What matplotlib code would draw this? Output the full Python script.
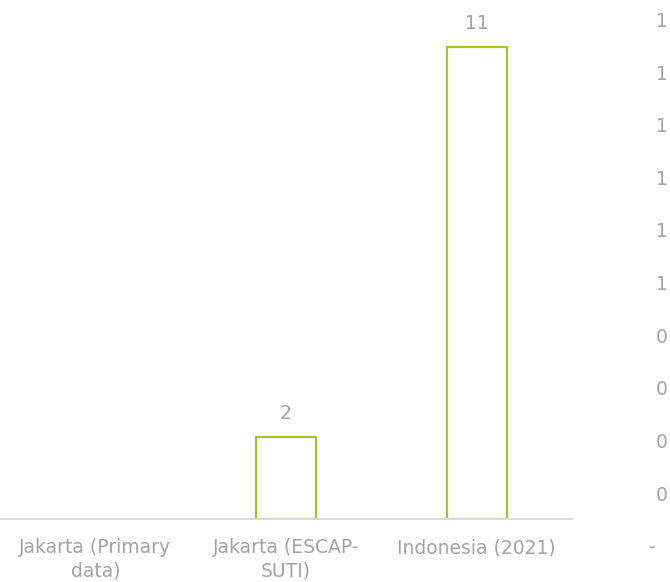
import matplotlib
matplotlib.use("Agg")
import matplotlib.pyplot as plt

categories = ["Jakarta (Primary\ndata)", "Jakarta (ESCAP-\nSUTI)", "Indonesia (2021)"]
values = [0, 1.9, 11]
value_labels = ["", "2", "11"]
right_ticks = [0, 0.1, 0.2, 0.3, 0.4, 0.5, 0.6, 0.7, 0.8, 0.9, 1.0]
right_labels = ["-  ", "0", "0", "0", "0", "1", "1", "1", "1", "1", "1"]

TEXT = "#A3A3A3"
EDGE = "#A8C42C"
AXIS = "#D9D9D9"
FONT = "DejaVu Sans"
FS = 13.5

W, H = 670, 582
fig = plt.figure(figsize=(W / 100, H / 100), dpi=100)

# main axes: x 0..572 px, baseline at y=519 px
per_unit = 42.9
ymax = 12
top_px = 519 - per_unit * ymax
ax = fig.add_axes([0, 1 - 519 / H, 572 / W, (519 - top_px) / H])
ax.set_xlim(-0.5, 2.5)
ax.set_ylim(0, ymax)
x = list(range(len(categories)))
bars = ax.bar(x, values, width=0.315, facecolor="none", edgecolor=EDGE, linewidth=1.6)
for b, v in zip(bars, values):
    if v == 0:
        b.set_visible(False)
for xi, v, lab in zip(x, values, value_labels):
    if lab:
        ax.annotate(lab, (xi, v), xytext=(0, 17), textcoords="offset points",
                    ha="center", va="center", color=TEXT, fontsize=FS, family=FONT)
for s in ["top", "right", "left"]:
    ax.spines[s].set_visible(False)
ax.spines["bottom"].set_color(AXIS)
ax.spines["bottom"].set_linewidth(1.3)
ax.set_yticks([])
ax.set_xticks(x)
ax.set_xticklabels(categories, color=TEXT, fontsize=FS, family=FONT, linespacing=1.25)
ax.tick_params(axis="x", length=0, pad=14)
for t in ax.get_xticklabels():
    t.set_verticalalignment("top")
ax.patch.set_alpha(0)

# right value axis
b0 = 545.7
b1 = 19.5
ax2 = fig.add_axes([0.6, 1 - b0 / H, 668 / W - 0.6, (b0 - b1) / H])
ax2.set_ylim(0, 1)
ax2.set_xticks([])
for s in ax2.spines.values():
    s.set_visible(False)
ax2.patch.set_alpha(0)
ax2.yaxis.tick_right()
ax2.set_yticks(right_ticks)
ax2.set_yticklabels(right_labels, color=TEXT, fontsize=FS, family=FONT)
ax2.tick_params(axis="y", length=0, pad=0)
for t in ax2.get_yticklabels():
    t.set_horizontalalignment("right")

fig.savefig("out.png", dpi=100)
